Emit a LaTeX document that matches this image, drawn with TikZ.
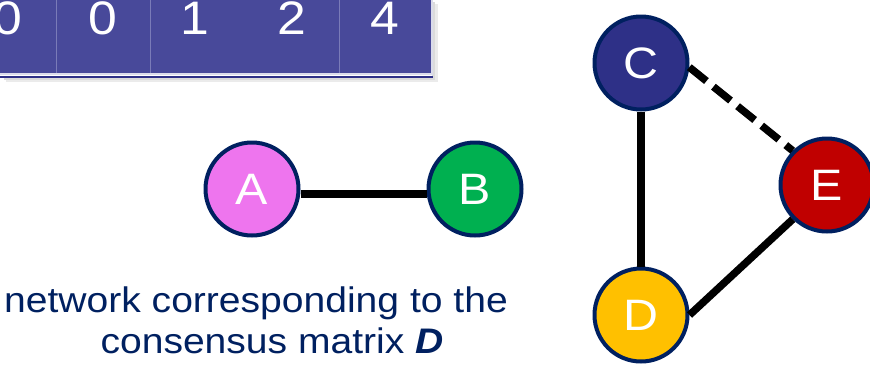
\documentclass[tikz,border=0pt]{standalone}
\usepackage{fontspec}
\setmainfont{Liberation Sans}
\newfontfamily\widesans[FakeStretch=1.1]{Liberation Sans}
\definecolor{tabfill}{HTML}{48499A}
\definecolor{tabdiv}{HTML}{7A7BB8}
\definecolor{tabedge}{HTML}{2E3087}
\definecolor{navy}{HTML}{002060}
\definecolor{cfill}{HTML}{2E3087}
\definecolor{afill}{HTML}{EE75EE}
\definecolor{bfill}{HTML}{00B050}
\definecolor{dfill}{HTML}{FFC000}
\definecolor{efill}{HTML}{C00000}
\tikzset{
  vertex/.style={circle, draw=navy, line width=4pt, minimum size=93pt, inner sep=0pt,
    text=white, font=\widesans\fontsize{44}{44}\selectfont},
  edge/.style={line width=7.5pt, black},
  digit/.style={text=white, font=\widesans\fontsize{47}{47}\selectfont, anchor=base, inner sep=0pt},
  caption/.style={text=navy, font=\widesans\fontsize{35.5}{35.5}\selectfont, anchor=base, inner sep=0pt}
}
\begin{document}
\begin{tikzpicture}[x=1pt,y=-1pt]
\useasboundingbox (0,0) rectangle (870,365);
% table shadow
\fill[black!8] (6,77) rectangle (438,82);
\fill[black!8] (432,4) rectangle (438,82);
\fill[black!14] (4,77) rectangle (435,80);
\fill[black!14] (432,2) rectangle (435,80);
% table
\fill[tabfill] (-40,-10) rectangle (432,74);
\draw[tabdiv, line width=1pt] (56,-10) -- (56,74);
\draw[tabdiv, line width=1pt] (150,-10) -- (150,74);
\draw[tabdiv, line width=1pt] (339,-10) -- (339,74);
\draw[white!80!tabfill, line width=1.5pt] (-40,74) -- (432,74) -- (432,-10);
\draw[tabedge, line width=2pt] (-40,76.5) -- (433,76.5);
\node[digit] (d1) at (8,34) {0};
\node[digit] (d2) at (102.5,34) {0};
\node[digit] (d3) at (195,34) {1};
\node[digit] (d4) at (292,34) {2};
\node[digit] (d5) at (385,34) {4};
% caption
\node[caption] (cap1) at (256,312) {network corresponding to the};
\node[caption] (cap2) at (272,353) {consensus matrix \textbf{\textit{D}}};
% nodes
\node[vertex, fill=afill] (A) at (252,189) {A};
\node[vertex, fill=bfill] (B) at (475,189) {B};
\node[vertex, fill=cfill] (C) at (641,63) {C};
\node[vertex, fill=dfill] (D) at (641,315) {D};
\node[vertex, fill=efill] (E) at (827,185) {E};
% edges
\draw[edge] ([yshift=-5pt]A.east) -- ([yshift=-5pt]B.west);
\draw[edge] (C.south) -- (D.north);
\draw[edge] (D.east) -- (E.south west);
\draw[edge, dash pattern=on 22pt off 9pt] (C.-5) -- (E.135);
\end{tikzpicture}
\end{document}
